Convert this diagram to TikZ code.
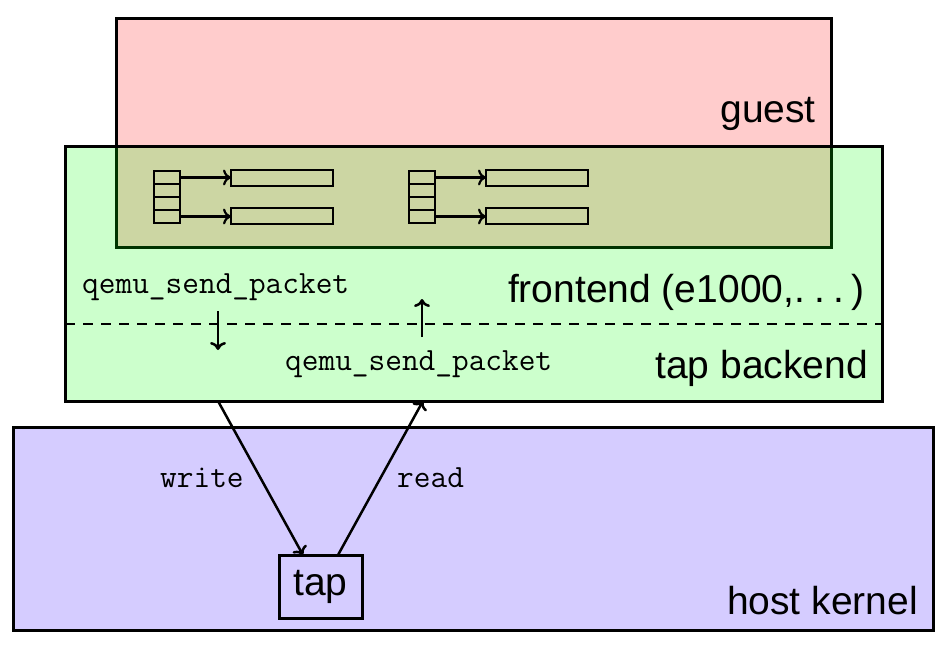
\documentclass[tikz,border=0pt]{standalone}
\usepackage{fontspec}
\setmainfont{Liberation Sans}
\usetikzlibrary{positioning,arrows.meta}

\definecolor{kernelfill}{RGB}{213,204,255}

\tikzset{
  >={Computer Modern Rightarrow[length=8pt,width=16pt]},
  region/.style={draw, line width=3pt, inner sep=0pt, outer sep=0pt},
  boxlabel/.style={font=\fontsize{39}{47}\selectfont, anchor=base east, inner sep=0pt},
  calllabel/.style={font=\ttfamily\fontsize{32.4}{38}\selectfont, anchor=base west, inner sep=0pt},
  cell/.style={draw, line width=2.2pt, minimum width=26pt, minimum height=13pt, inner sep=0pt, outer sep=0pt},
  buffer/.style={draw, line width=2.2pt, minimum width=102pt, minimum height=16pt, inner sep=0pt, outer sep=0pt},
}

\begin{document}
\begin{tikzpicture}[x=1pt, y=-1pt]
  \useasboundingbox (0,0) rectangle (949,646);

  % the three layers
  \node[region, fill=red, fill opacity=0.2, minimum width=715pt, minimum height=229pt] (guest) at (473.5,132.5) {};
  \node[region, fill=green, fill opacity=0.2, minimum width=817pt, minimum height=255pt] (frontend) at (473.5,273.5) {};
  \node[region, fill=kernelfill, minimum width=920pt, minimum height=203pt] (kernel) at (473,528.5) {};

  % frontend / backend split
  \coordinate (split) at (0,324);
  \draw[line width=2.5pt, dash pattern=on 10pt off 8pt] (frontend.west |- split) -- (frontend.east |- split);

  % rx/tx rings
  \foreach \q/\qx in {a/154, b/409} {
    \foreach \i in {1,...,4}
      \node[cell] (\q\i) at (\qx+13, 164.5+13*\i) {};
    \node[buffer] (\q-top) at (\qx+128, 178) {};
    \node[buffer] (\q-bot) at (\qx+128, 216) {};
    \draw[->, line width=2.2pt] (\q1.east) -- (\q1.east -| \q-top.west);
    \draw[->, line width=2.2pt] (\q4.east) -- (\q4.east -| \q-bot.west);
  }

  \node[boxlabel] (guestlabel) at (816,122) {guest};
  \node[boxlabel] (frontlabel) at (865,302) {frontend (e1000,.\kern9pt.\kern9pt.\kern7pt)};
  \node[boxlabel] (backlabel) at (868,378) {tap backend};
  \node[boxlabel] (kernellabel) at (918,614) {host kernel};

  \node[calllabel] (sendout) at (82,293) {qemu\_send\_packet};
  \node[calllabel] (sendin) at (285,370) {qemu\_send\_packet};

  \coordinate (downfrom) at (218,311);
  \coordinate (downto) at (218,350);
  \coordinate (upfrom) at (422,337);
  \coordinate (upto) at (422,299);
  \draw[->, line width=2.5pt] (downfrom) -- (downto);
  \draw[->, line width=2.5pt] (upfrom) -- (upto);

  % tap device
  \node[region, font=\fontsize{39}{47}\selectfont, minimum width=83pt, minimum height=63pt] (tap) at (320.5,586.5) {tap};
  \coordinate (writefrom) at (218,401);
  \coordinate (readto) at (423,401);
  \draw[->, line width=2.5pt] (writefrom) -- ([xshift=-17.5pt]tap.north);
  \draw[->, line width=2.5pt] ([xshift=17.5pt]tap.north) -- (readto);

  \node[calllabel] (writelabel) at (160,487) {write};
  \node[calllabel] (readlabel) at (397,487) {read};
\end{tikzpicture}
\end{document}
